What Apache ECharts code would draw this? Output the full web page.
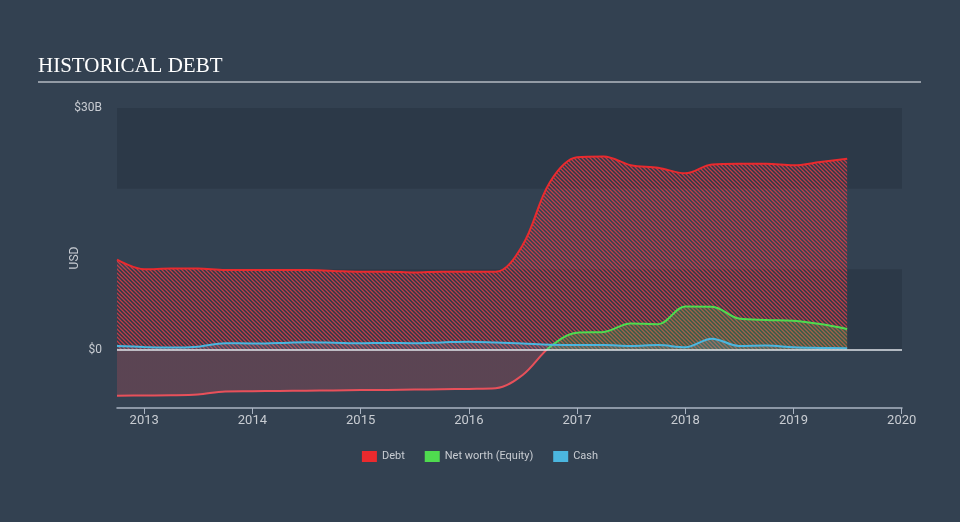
<!DOCTYPE html>
<html>
<head>
<meta charset="utf-8">
<script src="https://cdn.jsdelivr.net/npm/echarts@6/dist/echarts.min.js"></script>
<style>
html,body{margin:0;padding:0;background:#334151;}
#c{width:960px;height:522px;}
</style>
</head>
<body>
<div id="c"></div>
<script>
// ---- data (USD billions, quarter ends) ----
var dates = ['2012-09-30','2012-12-31','2013-03-31','2013-06-30','2013-09-30','2013-12-31',
  '2014-03-31','2014-06-30','2014-09-30','2014-12-31','2015-03-31','2015-06-30','2015-09-30',
  '2015-12-31','2016-03-31','2016-06-30','2016-09-30','2016-12-31','2017-03-31','2017-06-30',
  '2017-09-30','2017-12-31','2018-03-31','2018-06-30','2018-09-30','2018-12-31','2019-03-31','2019-06-30'];
var debt = [11.2, 10.0, 10.1, 10.1, 9.9, 9.9, 9.9, 9.9, 9.8, 9.7, 9.7, 9.6, 9.7, 9.7,
  9.7, 13.0, 20.8, 23.9, 24.0, 22.9, 22.6, 21.9, 23.0, 23.1, 23.1, 22.9, 23.3, 23.7];
var equity = [-5.67, -5.64, -5.62, -5.52, -5.14, -5.11, -5.08, -5.05, -5.02, -4.98, -4.96, -4.92, -4.87, -4.83,
  -4.75, -3.1, 0.37, 2.14, 2.23, 3.28, 3.19, 5.39, 5.37, 3.9, 3.72, 3.63, 3.22, 2.6];
var cash = [0.5, 0.37, 0.29, 0.41, 0.83, 0.8, 0.87, 0.95, 0.9, 0.83, 0.87, 0.83, 0.93, 1.03,
  0.93, 0.8, 0.65, 0.6, 0.6, 0.5, 0.6, 0.33, 1.4, 0.5, 0.55, 0.33, 0.25, 0.2];
var yTickLabels = {0: '$0', 30: '$30B'};
var axisEnd = '2020-01-01';

function decYear(s) {
  var p = s.split('-').map(Number);
  var start = Date.UTC(p[0], 0, 1), end = Date.UTC(p[0] + 1, 0, 1);
  var d = Date.UTC(p[0], p[1] - 1, p[2]) + 86400000;
  return p[0] + (d - start) / (end - start);
}
var xs = dates.map(decYear);
function pairs(vals) { return vals.map(function (v, i) { return [xs[i], v]; }); }

function hatch(color, bg) {
  var c = document.createElement('canvas');
  c.width = 4; c.height = 4;
  var g = c.getContext('2d');
  if (bg) { g.fillStyle = bg; g.fillRect(0, 0, 4, 4); }
  g.strokeStyle = color; g.lineWidth = 1.3;
  g.beginPath();
  g.moveTo(-1, -1); g.lineTo(5, 5);
  g.moveTo(-1, 3); g.lineTo(1, 5);
  g.moveTo(3, -1); g.lineTo(5, 1);
  g.stroke();
  return c;
}

var chart = echarts.init(document.getElementById('c'), null, {renderer: 'canvas'});
chart.setOption({
  backgroundColor: '#334151',
  animation: false,
  graphic: [
    {type: 'text', left: 38, top: 56, style: {text: 'HISTORICAL DEBT', fill: '#ffffff',
      font: '21px "Liberation Serif", "DejaVu Serif", serif'}},
    {type: 'line', shape: {x1: 38, y1: 82, x2: 921, y2: 82}, style: {stroke: '#b4bac2', lineWidth: 1.5}}
  ],
  grid: {left: 117, right: 58, top: 108, bottom: 114},
  legend: {
    bottom: 55, left: 'center', itemWidth: 15, itemHeight: 11, itemGap: 20, icon: 'rect',
    textStyle: {color: '#c8ccd2', fontSize: 11, fontFamily: 'Roboto, sans-serif'},
    data: ['Debt', 'Net worth (Equity)', 'Cash']
  },
  visualMap: {
    show: false, type: 'piecewise', seriesIndex: 1, dimension: 1,
    pieces: [{gte: -100, lt: 0, color: '#e8505a'}, {gte: 0, lte: 100, color: '#4fdb4f'}],
    outOfRange: {color: '#4fdb4f'}
  },
  xAxis: {
    type: 'value', min: xs[0], max: decYear(axisEnd) - 0.0001, splitNumber: 7,
    axisLine: {onZero: false, lineStyle: {color: '#aab4c2', width: 1.5}},
    axisTick: {show: true, length: 6, lineStyle: {color: '#aab4c2'}},
    splitLine: {show: false},
    axisLabel: {color: '#c8ccd2', fontSize: 13, margin: 6, fontFamily: 'Roboto, sans-serif',
      showMinLabel: false,
      formatter: function (v) { return Math.abs(v - Math.round(v)) < 0.01 ? String(Math.round(v)) : ''; }}
  },
  yAxis: {
    type: 'value', min: -7.2, max: 30, splitNumber: 4,
    name: 'USD', nameLocation: 'middle', nameGap: 36, nameMoveOverlap: false,
    nameTextStyle: {color: '#c8ccd2', fontSize: 12, fontFamily: 'Roboto, sans-serif'},
    axisLine: {show: false}, axisTick: {show: false},
    splitLine: {show: false},
    splitArea: {show: true, areaStyle: {color: ['rgba(0,0,0,0)', 'rgba(30,40,52,0.28)']}},
    axisLabel: {color: '#c8ccd2', fontSize: 12, margin: 15, fontFamily: 'Roboto, sans-serif',
      formatter: function (v) { return yTickLabels[Math.round(v)] !== undefined && Math.abs(v - Math.round(v)) < 0.01 ? yTickLabels[Math.round(v)] : ''; }}
  },
  series: [
    {
      name: 'Debt', type: 'line', data: pairs(debt), color: '#ea2a2e',
      smooth: 0.35, symbol: 'none',
      lineStyle: {width: 2, color: '#ea2a2e'},
      areaStyle: {color: {image: hatch('rgba(228,62,72,0.8)', null), repeat: 'repeat'}, opacity: 1},
      markLine: {silent: true, symbol: 'none', label: {show: false},
        lineStyle: {color: '#dfe3e8', width: 1.5, type: 'solid'}, data: [{yAxis: 0}]},
      z: 2
    },
    {
      name: 'Net worth (Equity)', type: 'line', data: pairs(equity), color: '#4fdb4f',
      smooth: 0.35, symbol: 'none',
      lineStyle: {width: 2},
      areaStyle: {opacity: 0.22},
      z: 3
    },
    {
      name: 'Cash', type: 'line', data: pairs(cash), color: '#4bb6df',
      smooth: 0.35, symbol: 'none',
      lineStyle: {width: 2, color: '#4bb6df'},
      areaStyle: {color: 'rgba(120,180,215,0.25)'},
      z: 4
    }
  ]
});
</script>
</body>
</html>
